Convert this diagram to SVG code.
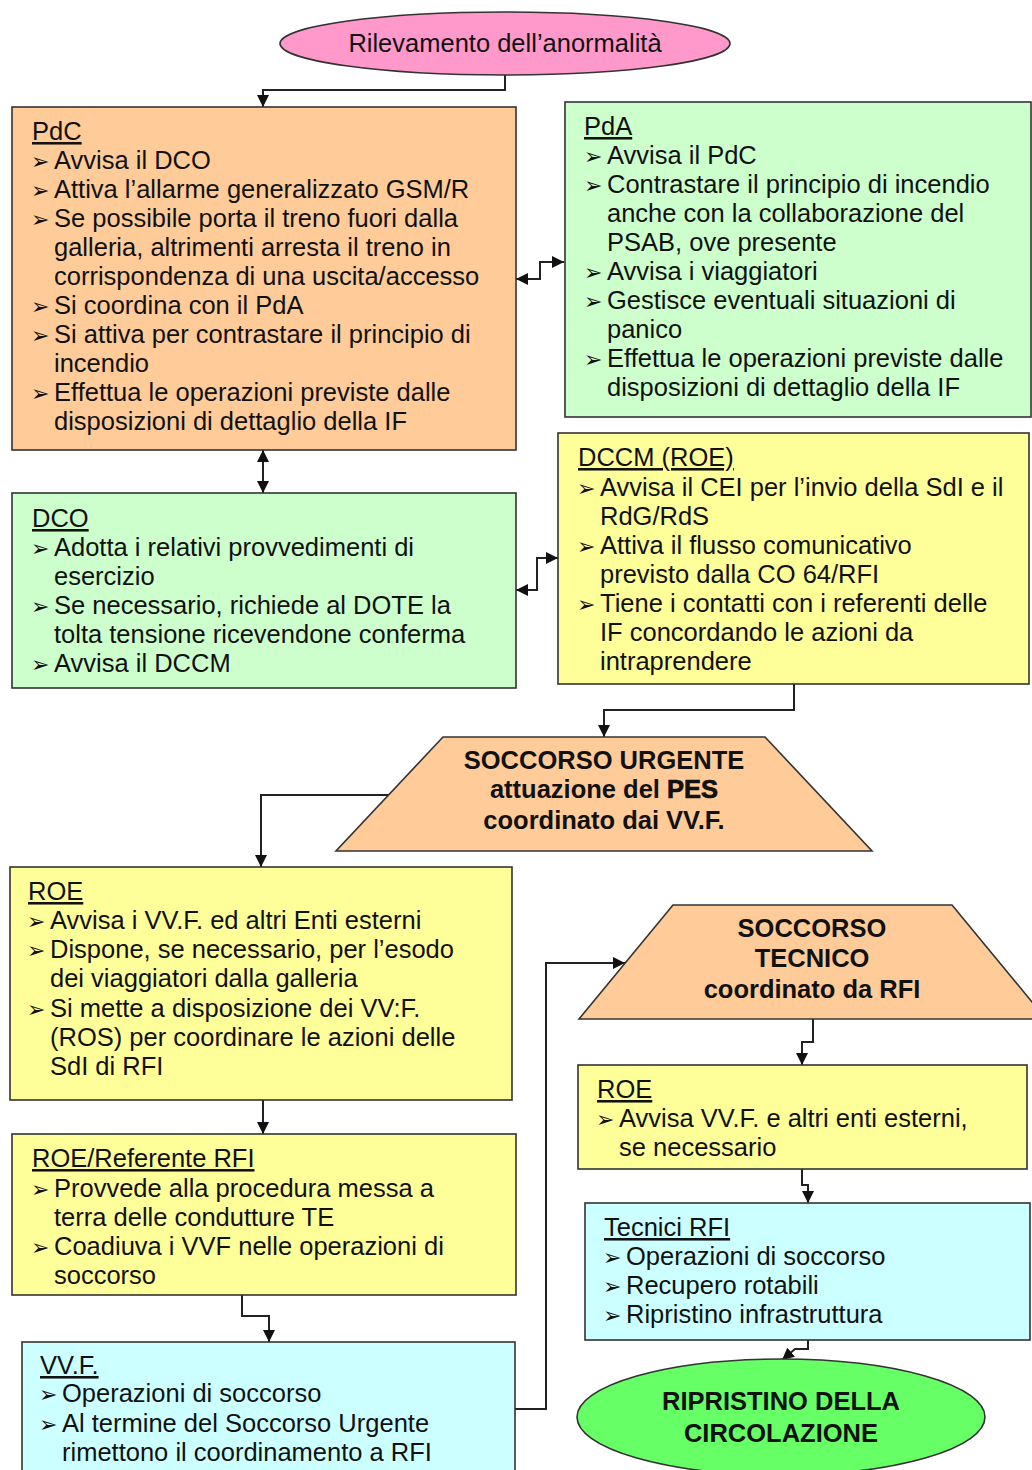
<svg xmlns="http://www.w3.org/2000/svg" width="1032" height="1470" viewBox="0 0 1032 1470">
<defs>
<style>
.box{stroke:#333;stroke-width:1.6}
.t{font-family:"Liberation Sans",Arial,sans-serif;font-size:25.5px;fill:#111}
.h{text-decoration:underline}
.b{font-family:"DejaVu Sans",sans-serif;font-size:22px}
.m{text-anchor:middle;font-weight:bold}
.c{fill:none;stroke:#222;stroke-width:2}
</style>
<marker id="a" markerWidth="12" markerHeight="12" refX="12" refY="6" orient="auto-start-reverse" markerUnits="userSpaceOnUse"><path d="M0,0 L12,6 L0,12 z" fill="#111"/></marker>
</defs>
<rect width="1032" height="1470" fill="#fff"/>

<g id="connectors">
<path class="c" d="M505,75 V90 H263 V107" marker-end="url(#a)"/>
<path class="c" d="M516,279 H540 V262 H564" marker-start="url(#a)" marker-end="url(#a)"/>
<path class="c" d="M263,450 V493" marker-start="url(#a)" marker-end="url(#a)"/>
<path class="c" d="M516,590 H537 V558 H558" marker-start="url(#a)" marker-end="url(#a)"/>
<path class="c" d="M794,684 V710 H604 V737" marker-end="url(#a)"/>
<path class="c" d="M389,795 H261 V867" marker-end="url(#a)"/>
<path class="c" d="M263,1100 V1134" marker-end="url(#a)"/>
<path class="c" d="M242,1295 V1316 H269 V1342" marker-end="url(#a)"/>
<path class="c" d="M515,1409 H546 V963 H625" marker-end="url(#a)"/>
<path class="c" d="M813,1019 V1042 H802 V1065" marker-end="url(#a)"/>
<path class="c" d="M802,1169 V1185 H808 V1203" marker-end="url(#a)"/>
<path class="c" d="M808,1340 V1349 H795 L782,1360" marker-end="url(#a)"/>
</g>

<g id="start">
<ellipse class="box" cx="505" cy="43.5" rx="225" ry="31.5" fill="#FF99CC"/>
<text class="t" x="505" y="52" text-anchor="middle">Rilevamento dell’anormalità</text>
</g>

<g id="pdc">
<rect class="box" x="12" y="107" width="504" height="343" fill="#FFCC99"/>
<text class="t h" x="32" y="140">PdC</text>
<text class="t" x="31" y="169"><tspan class="b">➢</tspan><tspan x="54">Avvisa il DCO</tspan></text>
<text class="t" x="31" y="198"><tspan class="b">➢</tspan><tspan x="54">Attiva l’allarme generalizzato GSM/R</tspan></text>
<text class="t" x="31" y="227"><tspan class="b">➢</tspan><tspan x="54">Se possibile porta il treno fuori dalla</tspan></text>
<text class="t" x="54" y="256">galleria, altrimenti arresta il treno in</text>
<text class="t" x="54" y="285">corrispondenza di una uscita/accesso</text>
<text class="t" x="31" y="314"><tspan class="b">➢</tspan><tspan x="54">Si coordina con il PdA</tspan></text>
<text class="t" x="31" y="343"><tspan class="b">➢</tspan><tspan x="54">Si attiva per contrastare il principio di</tspan></text>
<text class="t" x="54" y="372">incendio</text>
<text class="t" x="31" y="401"><tspan class="b">➢</tspan><tspan x="54">Effettua le operazioni previste dalle</tspan></text>
<text class="t" x="54" y="430">disposizioni di dettaglio della IF</text>
</g>

<g id="pda">
<rect class="box" x="565" y="102" width="466" height="315" fill="#CCFFCC"/>
<text class="t h" x="584" y="135">PdA</text>
<text class="t" x="584" y="164"><tspan class="b">➢</tspan><tspan x="607">Avvisa il PdC</tspan></text>
<text class="t" x="584" y="193"><tspan class="b">➢</tspan><tspan x="607">Contrastare il principio di incendio</tspan></text>
<text class="t" x="607" y="222">anche con la collaborazione del</text>
<text class="t" x="607" y="251">PSAB, ove presente</text>
<text class="t" x="584" y="280"><tspan class="b">➢</tspan><tspan x="607">Avvisa i viaggiatori</tspan></text>
<text class="t" x="584" y="309"><tspan class="b">➢</tspan><tspan x="607">Gestisce eventuali situazioni di</tspan></text>
<text class="t" x="607" y="338">panico</text>
<text class="t" x="584" y="367"><tspan class="b">➢</tspan><tspan x="607">Effettua le operazioni previste dalle</tspan></text>
<text class="t" x="607" y="396">disposizioni di dettaglio della IF</text>
</g>

<g id="dco">
<rect class="box" x="12" y="493" width="504" height="195" fill="#CCFFCC"/>
<text class="t h" x="32" y="527">DCO</text>
<text class="t" x="31" y="556"><tspan class="b">➢</tspan><tspan x="54">Adotta i relativi provvedimenti di</tspan></text>
<text class="t" x="54" y="585">esercizio</text>
<text class="t" x="31" y="614"><tspan class="b">➢</tspan><tspan x="54">Se necessario, richiede al DOTE la</tspan></text>
<text class="t" x="54" y="643">tolta tensione ricevendone conferma</text>
<text class="t" x="31" y="672"><tspan class="b">➢</tspan><tspan x="54">Avvisa il DCCM</tspan></text>
</g>

<g id="dccm">
<rect class="box" x="558" y="433" width="471" height="251" fill="#FFFF99"/>
<text class="t h" x="578" y="466">DCCM (ROE)</text>
<text class="t" x="577" y="496"><tspan class="b">➢</tspan><tspan x="600">Avvisa il CEI per l’invio della SdI e il</tspan></text>
<text class="t" x="600" y="525">RdG/RdS</text>
<text class="t" x="577" y="554"><tspan class="b">➢</tspan><tspan x="600">Attiva il flusso comunicativo</tspan></text>
<text class="t" x="600" y="583">previsto dalla CO 64/RFI</text>
<text class="t" x="577" y="612"><tspan class="b">➢</tspan><tspan x="600">Tiene i contatti con i referenti delle</tspan></text>
<text class="t" x="600" y="641">IF concordando le azioni da</text>
<text class="t" x="600" y="670">intraprendere</text>
</g>

<g id="urgente">
<polygon class="box" points="443,737 765,737 872,851 336,851" fill="#FFCC99"/>
<text class="t m" x="604" y="769">SOCCORSO URGENTE</text>
<text class="t m" x="604" y="798">attuazione del <tspan stroke="#111" stroke-width="0.7">PES</tspan></text>
<text class="t m" x="604" y="829">coordinato dai VV.F.</text>
</g>

<g id="roe1">
<rect class="box" x="10" y="867" width="502" height="233" fill="#FFFF99"/>
<text class="t h" x="28" y="900">ROE</text>
<text class="t" x="27" y="929"><tspan class="b">➢</tspan><tspan x="50">Avvisa i VV.F. ed altri Enti esterni</tspan></text>
<text class="t" x="27" y="958"><tspan class="b">➢</tspan><tspan x="50">Dispone, se necessario, per l’esodo</tspan></text>
<text class="t" x="50" y="987">dei viaggiatori dalla galleria</text>
<text class="t" x="27" y="1017"><tspan class="b">➢</tspan><tspan x="50">Si mette a disposizione dei VV:F.</tspan></text>
<text class="t" x="50" y="1046">(ROS) per coordinare le azioni delle</text>
<text class="t" x="50" y="1075">SdI di RFI</text>
</g>

<g id="referente">
<rect class="box" x="12" y="1134" width="504" height="161" fill="#FFFF99"/>
<text class="t h" x="32" y="1167">ROE/Referente RFI</text>
<text class="t" x="31" y="1197"><tspan class="b">➢</tspan><tspan x="54">Provvede alla procedura messa a</tspan></text>
<text class="t" x="54" y="1226">terra delle condutture TE</text>
<text class="t" x="31" y="1255"><tspan class="b">➢</tspan><tspan x="54">Coadiuva i VVF nelle operazioni di</tspan></text>
<text class="t" x="54" y="1284">soccorso</text>
</g>

<g id="vvf">
<rect class="box" x="22" y="1342" width="493" height="140" fill="#CCFFFF"/>
<text class="t h" x="40" y="1374">VV.F.</text>
<text class="t" x="39" y="1402"><tspan class="b">➢</tspan><tspan x="62">Operazioni di soccorso</tspan></text>
<text class="t" x="39" y="1432"><tspan class="b">➢</tspan><tspan x="62">Al termine del Soccorso Urgente</tspan></text>
<text class="t" x="62" y="1461">rimettono il coordinamento a RFI</text>
</g>

<g id="tecnico">
<polygon class="box" points="673,905 952,905 1046,1019 579,1019" fill="#FFCC99"/>
<text class="t m" x="812" y="937">SOCCORSO</text>
<text class="t m" x="812" y="967">TECNICO</text>
<text class="t m" x="812" y="998">coordinato da RFI</text>
</g>

<g id="roe2">
<rect class="box" x="578" y="1065" width="449" height="104" fill="#FFFF99"/>
<text class="t h" x="597" y="1098">ROE</text>
<text class="t" x="596" y="1127"><tspan class="b">➢</tspan><tspan x="619">Avvisa VV.F. e altri enti esterni,</tspan></text>
<text class="t" x="619" y="1156">se necessario</text>
</g>

<g id="tecnici">
<rect class="box" x="585" y="1203" width="445" height="137" fill="#CCFFFF"/>
<text class="t h" x="604" y="1236">Tecnici RFI</text>
<text class="t" x="603" y="1265"><tspan class="b">➢</tspan><tspan x="626">Operazioni di soccorso</tspan></text>
<text class="t" x="603" y="1294"><tspan class="b">➢</tspan><tspan x="626">Recupero rotabili</tspan></text>
<text class="t" x="603" y="1323"><tspan class="b">➢</tspan><tspan x="626">Ripristino infrastruttura</tspan></text>
</g>

<g id="ripristino">
<ellipse class="box" cx="781" cy="1417" rx="204" ry="58" fill="#66FF66"/>
<text class="t m" x="781" y="1410">RIPRISTINO DELLA</text>
<text class="t m" x="781" y="1442">CIRCOLAZIONE</text>
</g>
</svg>
